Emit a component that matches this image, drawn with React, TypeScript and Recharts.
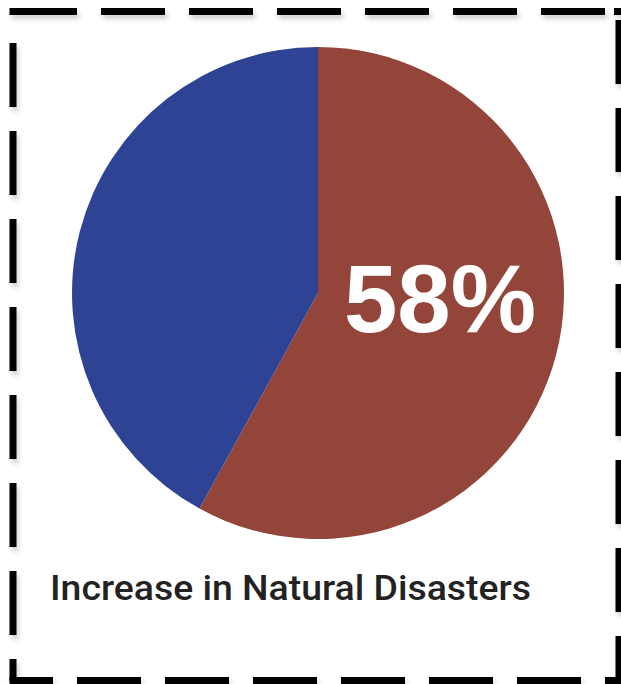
import React from 'react';
import { PieChart, Pie, Cell } from 'recharts';

const segments = ['Increase', 'Other'];
const shares = [58, 42];
const colors = ['#93453A', '#2F4395'];
const title = 'Increase in Natural Disasters';

const data = segments.map((name, i) => ({ name, value: shares[i] }));

// only the red slice carries its share as a big white figure
const renderLabel = (props: any) => {
    if (props.index !== 0) return null;
    return (
        <text
            x={props.cx + 122}
            y={props.cy + 39}
            fill="#ffffff"
            textAnchor="middle"
            fontFamily="'Liberation Sans', Arial, sans-serif"
            fontWeight="bold"
            fontSize={96}
        >
            {`${props.value}%`}
        </text>
    );
};

// dashed frame, one segment per side so every side starts on its own phase
const Frame = () => {
    const dash = '64 24';
    const sides = (stroke: string, extra: any) => (
        <g stroke={stroke} strokeWidth={7} fill="none" {...extra}>
            <line x1={13} y1={11.5} x2={621} y2={11.5} strokeDasharray={dash} />
            <line x1={13} y1={43} x2={13} y2={681} strokeDasharray={dash} />
            <line x1={619} y1={20} x2={619} y2={684} strokeDasharray={dash} />
            <line x1={77} y1={680.5} x2={617} y2={680.5} strokeDasharray={dash} />
            <line x1={9.5} y1={680.5} x2={53} y2={680.5} />
            <line x1={9.5} y1={11.5} x2={16.5} y2={11.5} />
            <line x1={614} y1={11.5} x2={621} y2={11.5} />
        </g>
    );
    return (
        <svg
            width={621}
            height={684}
            style={{ position: 'absolute', left: 0, top: 0 }}
        >
            <defs>
                <filter id="soft" x="-5%" y="-5%" width="110%" height="110%">
                    <feGaussianBlur stdDeviation="2.5" />
                </filter>
            </defs>
            {sides('#cfcfcf', { filter: 'url(#soft)', transform: 'translate(2 4)' })}
            {sides('#000000', {})}
        </svg>
    );
};

export default function App() {
    return (
        <div
            style={{
                position: 'absolute',
                left: 0,
                top: 0,
                width: 621,
                height: 684,
                background: '#ffffff',
                overflow: 'hidden',
            }}
        >
            <Frame />
            <div style={{ position: 'absolute', left: 0, top: 0 }}>
                <PieChart
                    width={621}
                    height={684}
                    margin={{ top: 0, right: 0, bottom: 0, left: 0 }}
                >
                    <Pie
                        data={data}
                        dataKey="value"
                        cx={318}
                        cy={293}
                        outerRadius={246}
                        startAngle={90}
                        endAngle={-270}
                        stroke="none"
                        label={renderLabel}
                        labelLine={false}
                        isAnimationActive={false}
                    >
                        {data.map((d, i) => (
                            <Cell key={d.name} fill={colors[i]} />
                        ))}
                    </Pie>
                </PieChart>
            </div>
            <svg
                width={621}
                height={684}
                style={{ position: 'absolute', left: 0, top: 0, pointerEvents: 'none' }}
            >
                <text
                    x={50}
                    y={600}
                    fill="#222222"
                    fontFamily="Roboto, 'Liberation Sans', sans-serif"
                    fontWeight={500}
                    fontSize={35}
                    textLength={481}
                    lengthAdjust="spacingAndGlyphs"
                >
                    {title}
                </text>
            </svg>
        </div>
    );
}
